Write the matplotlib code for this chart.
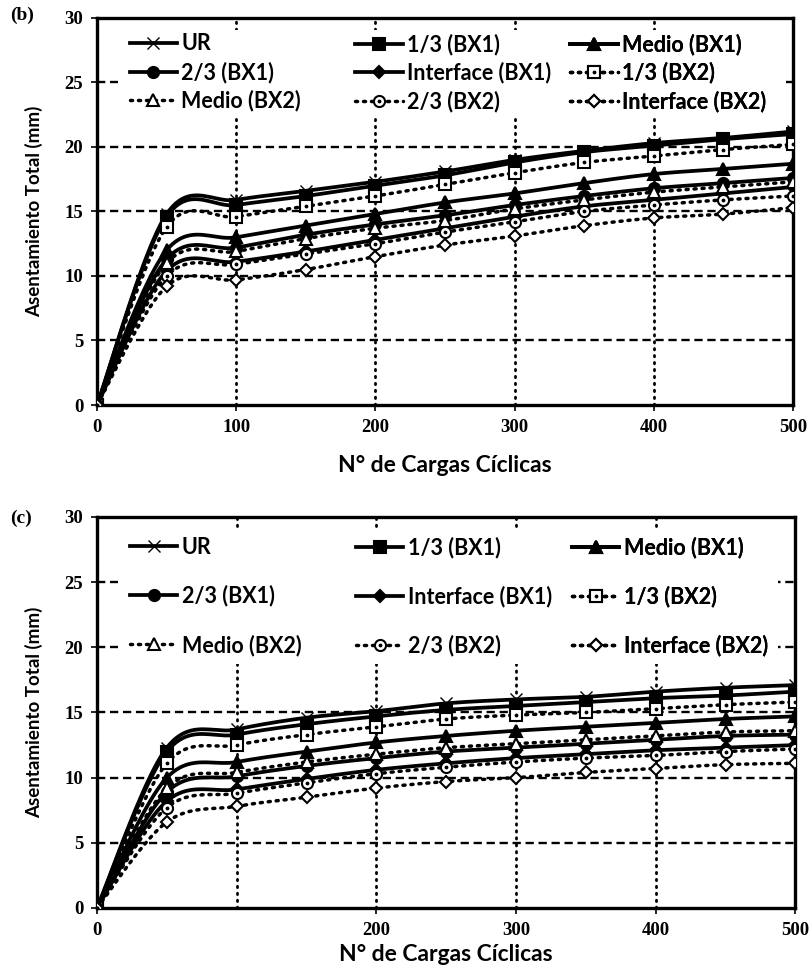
import matplotlib
matplotlib.use("Agg")
import matplotlib.pyplot as plt
import numpy as np
from matplotlib.lines import Line2D
from matplotlib.patches import Rectangle

# number of load cycles (same for both panels)
cycles = [0, 50, 100, 150, 200, 250, 300, 350, 400, 450, 500]

labels = ["UR", "1/3 (BX1)", "Medio (BX1)", "2/3 (BX1)", "Interface (BX1)",
          "1/3 (BX2)", "Medio (BX2)", "2/3 (BX2)", "Interface (BX2)"]

# panel (b): total settlement (mm)
b_ur = [0, 14.8, 15.9, 16.6, 17.3, 18.1, 19.0, 19.7, 20.3, 20.7, 21.2]
b_13_bx1 = [0, 14.6, 15.5, 16.2, 17.0, 17.8, 18.8, 19.6, 20.1, 20.6, 21.0]
b_med_bx1 = [0, 12.0, 13.0, 13.9, 14.8, 15.7, 16.4, 17.2, 17.9, 18.3, 18.7]
b_23_bx1 = [0, 11.3, 12.2, 13.2, 14.0, 14.7, 15.5, 16.2, 16.8, 17.2, 17.6]
b_int_bx1 = [0, 10.4, 11.1, 11.9, 12.8, 13.7, 14.6, 15.4, 15.9, 16.4, 16.9]
b_13_bx2 = [0, 13.8, 14.6, 15.4, 16.2, 17.1, 18.0, 18.8, 19.3, 19.8, 20.2]
b_med_bx2 = [0, 11.0, 11.9, 12.9, 13.7, 14.3, 15.2, 15.9, 16.5, 16.9, 17.3]
b_23_bx2 = [0, 10.0, 10.9, 11.7, 12.5, 13.4, 14.2, 15.0, 15.5, 15.9, 16.2]
b_int_bx2 = [0, 9.2, 9.7, 10.5, 11.5, 12.4, 13.1, 13.9, 14.5, 14.8, 15.3]

# panel (c): total settlement (mm)
c_ur = [0, 12.3, 13.7, 14.6, 15.1, 15.7, 16.0, 16.2, 16.6, 16.9, 17.1]
c_13_bx1 = [0, 12.0, 13.3, 14.1, 14.7, 15.2, 15.5, 15.8, 16.1, 16.3, 16.6]
c_med_bx1 = [0, 10.0, 11.2, 12.0, 12.7, 13.2, 13.6, 13.9, 14.2, 14.5, 14.7]
c_23_bx1 = [0, 8.9, 10.1, 10.9, 11.5, 12.0, 12.3, 12.6, 12.9, 13.2, 13.3]
c_int_bx1 = [0, 8.2, 9.1, 9.9, 10.6, 11.1, 11.5, 11.8, 12.1, 12.3, 12.5]
c_13_bx2 = [0, 11.1, 12.5, 13.3, 13.9, 14.5, 14.8, 15.0, 15.3, 15.6, 15.8]
c_med_bx2 = [0, 9.2, 10.4, 11.2, 11.8, 12.3, 12.6, 12.9, 13.2, 13.5, 13.6]
c_23_bx2 = [0, 7.7, 8.8, 9.6, 10.3, 10.8, 11.2, 11.5, 11.7, 12.0, 12.2]
c_int_bx2 = [0, 6.6, 7.8, 8.5, 9.2, 9.7, 10.0, 10.4, 10.7, 11.0, 11.1]

panel_b = [b_ur, b_13_bx1, b_med_bx1, b_23_bx1, b_int_bx1,
           b_13_bx2, b_med_bx2, b_23_bx2, b_int_bx2]
panel_c = [c_ur, c_13_bx1, c_med_bx1, c_23_bx1, c_int_bx1,
           c_13_bx2, c_med_bx2, c_23_bx2, c_int_bx2]

xticks_b = [0, 100, 200, 300, 400, 500]
xticks_c = [0, 200, 300, 400, 500]

# (marker, filled, linestyle, centre dot)
styles = [
    ("x", True, "-", False),
    ("s", True, "-", False),
    ("^", True, "-", False),
    ("o", True, "-", False),
    ("D", True, "-", False),
    ("s", False, ":", True),
    ("^", False, ":", False),
    ("o", False, ":", True),
    ("D", False, ":", False),
]

SANS = "Lato"
SERIF = "Liberation Serif"
DOTS = (0, (0.6, 1.7))


def smooth(x, y, n=24):
    """Bezier smoothing through the points (spreadsheet style)."""
    pts = np.column_stack([x, y]).astype(float)
    P = np.vstack([pts[0], pts, pts[-1]])
    t = np.linspace(0, 1, n)[:, None]
    out = []
    for i in range(1, len(P) - 2):
        p0, p1, p2, p3 = P[i - 1], P[i], P[i + 1], P[i + 2]
        c1 = p1 + (p2 - p0) / 6
        c2 = p2 - (p3 - p1) / 6
        seg = ((1 - t) ** 3) * p1 + 3 * ((1 - t) ** 2) * t * c1 \
            + 3 * (1 - t) * t ** 2 * c2 + t ** 3 * p2
        out.append(seg if i == 1 else seg[1:])
    return np.vstack(out).T


def style_kw(marker, filled):
    kw = dict(color="black", marker=marker, markeredgecolor="black",
              markerfacecolor="black" if filled else "white")
    if marker == "x":
        kw.update(markersize=9, markeredgewidth=1.0)
    elif marker == "D":
        kw.update(markersize=6.5, markeredgewidth=1.5)
    else:
        kw.update(markersize=8, markeredgewidth=1.5)
    return kw


def draw_panel(ax, series, xticks, leg_top, leg_box, labelspacing):
    handles = []
    for vals, (mk, filled, ls, dot) in zip(series, styles):
        sx, sy = smooth(cycles, vals)
        if ls == ":":
            ax.plot(sx, sy, color="black", lw=2.5, linestyle=DOTS,
                    dash_capstyle="round", zorder=3)
        else:
            ax.plot(sx, sy, color="black", lw=2.7, zorder=3)
        kw = style_kw(mk, filled)
        ax.plot(cycles, vals, linestyle="none", zorder=4, **kw)
        if dot:
            ax.plot(cycles, vals, linestyle="none", marker=".", color="black",
                    markersize=3.5, zorder=5)
        if ls == ":":
            h = Line2D([], [], lw=2.5, linestyle=DOTS, dash_capstyle="round", **kw)
        else:
            h = Line2D([], [], lw=2.7, **kw)
        if dot:
            h = (h, Line2D([], [], linestyle="none", marker=".",
                           color="black", markersize=3.5))
        handles.append(h)

    ax.set_xlim(0, 500)
    ax.set_ylim(0, 30)
    ax.set_xticks(xticks)
    ax.set_yticks(range(0, 31, 5))
    for sp in ax.spines.values():
        sp.set_linewidth(2.4)
    ax.tick_params(width=1.2, length=4, pad=6)
    for t in ax.get_xticklabels() + ax.get_yticklabels():
        t.set_fontfamily(SERIF)
        t.set_fontweight("bold")
        t.set_fontsize(13.5)

    for yv in range(5, 30, 5):
        ax.axhline(yv, color="black", lw=1.7, linestyle=(0, (3.5, 2.0)), zorder=1)
    for xv in (100, 200, 300, 400):
        ax.axvline(xv, color="black", lw=2.0, linestyle=(0, (0.5, 2.0)),
                   dash_capstyle="round", zorder=1)

    ax.set_ylabel("Asentamiento Total (mm)", fontfamily=SANS, fontweight="bold",
                  fontsize=13.5, labelpad=15)

    # white area behind the legend entries
    x0, x1, y0, y1 = leg_box
    ax.add_patch(Rectangle((x0, y0), x1 - x0, y1 - y0, transform=ax.transAxes,
                           facecolor="white", edgecolor="none", zorder=5))

    # three legend columns of equal width, filled row by row
    col_x = [0.047, 0.371, 0.680]
    for c in range(3):
        idx = [c, c + 3, c + 6]
        leg = ax.legend([handles[i] for i in idx], [labels[i] for i in idx],
                        loc="upper left", bbox_to_anchor=(col_x[c], leg_top),
                        frameon=False, borderpad=0, borderaxespad=0,
                        handlelength=2.2, handletextpad=0.2,
                        labelspacing=labelspacing,
                        prop={"family": SANS, "weight": "bold", "size": 15.5})
        leg.set_zorder(6)
        ax.add_artist(leg)


fig = plt.figure(figsize=(8.12, 9.71), dpi=100)

ax_b = fig.add_axes([0.1195, 0.5829, 0.8570, 0.3986])
draw_panel(ax_b, panel_b, xticks_b, 0.960, (0.03, 0.99, 0.745, 0.97), 0.32)
ax_b.set_xlabel("N° de Cargas Cíclicas", fontfamily=SANS, fontweight="bold",
                fontsize=16.5, labelpad=14)

ax_c = fig.add_axes([0.1195, 0.0649, 0.8600, 0.4027])
draw_panel(ax_c, panel_c, xticks_c, 0.950, (0.03, 0.975, 0.625, 0.97), 1.28)
ax_c.set_xlabel("N° de Cargas Cíclicas", fontfamily=SANS, fontweight="bold",
                fontsize=16.5, labelpad=4)

fig.text(0.012, 0.984, "(b)", fontfamily=SERIF, fontweight="bold", fontsize=14,
         va="center", ha="left")
fig.text(0.012, 0.466, "(c)", fontfamily=SERIF, fontweight="bold", fontsize=14,
         va="center", ha="left")

fig.savefig("out.png", dpi=100, facecolor="white")
